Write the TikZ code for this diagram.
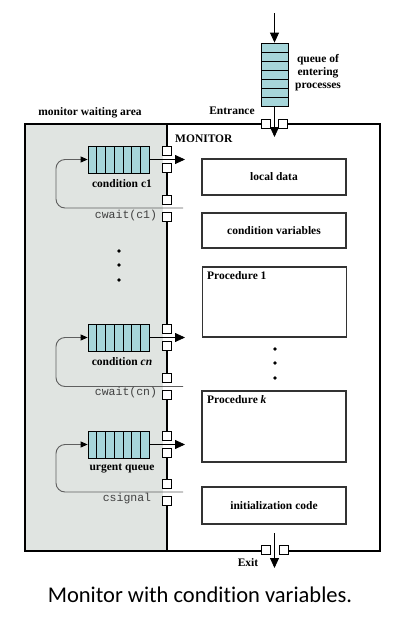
\documentclass[tikz,border=0pt]{standalone}
\usepackage{fontspec}
\setmainfont{Liberation Serif}
\setmonofont{Liberation Mono}
\newfontfamily\capfont[Ligatures=NoCommon]{Carlito}
\usetikzlibrary{arrows.meta}
\definecolor{waitgray}{RGB}{224,228,225}
\definecolor{qfill}{RGB}{166,214,218}
\definecolor{loopgray}{RGB}{95,95,95}
\begin{document}
\begin{tikzpicture}[x=1pt,y=-1pt,
  lbl/.style={font=\fontsize{11.5}{13}\selectfont\bfseries, inner sep=0pt},
  mono/.style={font=\fontsize{11.5}{13}\ttfamily, text=black!75, inner sep=0pt},
  hq/.style={draw=black, fill=qfill, line width=0.8pt, minimum width=61pt, minimum height=27pt, inner sep=0pt},
  vq/.style={draw=black, fill=qfill, line width=0.8pt, minimum width=27pt, minimum height=63pt, inner sep=0pt},
  gate/.style={draw=black, fill=white, line width=0.7pt, minimum size=9pt, inner sep=0pt},
  gapfill/.style={fill=white},
  procbox/.style={draw=black!80, line width=1.4pt, inner sep=0pt, minimum width=144pt, font=\fontsize{11.5}{13}\selectfont\bfseries},
  qarrow/.style={line width=0.8pt, -{Triangle[length=10pt,width=9pt]}},
  looparrow/.style={draw=loopgray, line width=0.9pt, rounded corners=9pt, -{Triangle[length=7pt,width=6pt,color=black]}},
  dot/.style={circle, fill=black, inner sep=0pt, minimum size=3.6pt}
]
\useasboundingbox (0,0) rectangle (405,622);
% waiting area
\fill[waitgray] (25,124) rectangle (167,551);
% outer border
\draw[line width=2.4pt] (25,124) rectangle (380,551);
% divider
\draw[line width=2pt] (167,124) -- (167,551);
% gaps in border and divider
\fill[gapfill] (270,121) rectangle (279,127);
\fill[gapfill] (270.7,547) rectangle (279,553);
\foreach \ya/\yb in {155.5/164, 203.5/212.5, 333/342, 382/391, 440/449, 487.5/496.5}
  \fill[gapfill] (162.5,\ya) rectangle (171.5,\yb);

% monitor boxes
\node[procbox, minimum height=36pt] (ld) at (274,177) {local data};
\node[procbox, minimum height=35pt] (cv) at (274,230.5) {condition variables};
\node[procbox, minimum height=70pt] (p1) at (274.5,302) {};
\node[lbl, anchor=north west] (p1lab) at (207,271) {Procedure 1};
\node[procbox, minimum height=71pt] (pk) at (274,426.5) {};
\node[lbl, anchor=north west] (pklab) at (207,395) {Procedure \textit{k}};
\node[procbox, minimum height=37pt] (ic) at (274,505.5) {initialization code};

% entrance queue
\node[vq] (eq) at (274.5,74.5) {};
\foreach \i in {1,...,6} \draw[line width=0.7pt] (261,{43+\i*9}) -- (288,{43+\i*9});
\coordinate (etop) at (274.5,13);
\coordinate (ein) at (274.5,137);
\draw[qarrow] (etop) -- (eq.north);
\draw[qarrow] (eq.south) -- (ein);
\node[gate] (eg1) at (265.5,124) {};
\node[gate] (eg2) at (283.3,124) {};

% exit
\coordinate (xtop) at (274.5,533);
\coordinate (xout) at (274.5,568);
\draw[qarrow] (xtop) -- (xout);
\node[gate] (xg1) at (266.2,550) {};
\node[gate] (xg2) at (283.5,550) {};

% condition c1
\node[hq] (q1) at (118.5,159.5) {};
\foreach \i in {1,...,6} \draw[line width=0.7pt] ({88+\i*61/7},146) -- ({88+\i*61/7},173);
\coordinate (a1) at (185,159.5);
\coordinate (l1) at (183,208);
\draw[qarrow] (q1.east) -- (a1);
\draw[looparrow] (l1) -- (56,208) -- (56,159.5) -- (q1.west);
\node[gate] (g1a) at (167,151) {};
\node[gate] (g1b) at (167,168) {};
\node[gate] (g1c) at (167,199.5) {};
\node[gate] (g1d) at (167,216.5) {};
\node[lbl] (c1lab) at (122,184) {condition c1};
\node[mono] (w1) at (126,216) {cwait(c1)};

% dots
\node[dot] (d1) at (119,251) {};
\node[dot] (d2) at (119,265) {};
\node[dot] (d3) at (119,280) {};
\node[dot] (d4) at (275,349) {};
\node[dot] (d5) at (275,363) {};
\node[dot] (d6) at (275,378) {};

% condition cn
\node[hq] (qn) at (118.5,337.5) {};
\foreach \i in {1,...,6} \draw[line width=0.7pt] ({88+\i*61/7},324) -- ({88+\i*61/7},351);
\coordinate (an) at (185,337.5);
\coordinate (ln) at (183,386.5);
\draw[qarrow] (qn.east) -- (an);
\draw[looparrow] (ln) -- (56,386.5) -- (56,337.5) -- (qn.west);
\node[gate] (gna) at (167,329) {};
\node[gate] (gnb) at (167,346) {};
\node[gate] (gnc) at (167,378) {};
\node[gate] (gnd) at (167,395) {};
\node[lbl] (cnlab) at (122,362) {condition \textit{cn}};
\node[mono] (wn) at (126,393) {cwait(cn)};

% urgent queue
\node[hq] (qu) at (118.5,444.5) {};
\foreach \i in {1,...,6} \draw[line width=0.7pt] ({88+\i*61/7},431) -- ({88+\i*61/7},458);
\coordinate (au) at (185,444.5);
\coordinate (lu) at (183,492);
\draw[qarrow] (qu.east) -- (au);
\draw[looparrow] (lu) -- (56,492) -- (56,444.5) -- (qu.west);
\node[gate] (gua) at (167,436) {};
\node[gate] (gub) at (167,453) {};
\node[gate] (guc) at (167,483.5) {};
\node[gate] (gud) at (167,500.5) {};
\node[lbl] (uqlab) at (122,469) {urgent queue};
\node[mono] (sg) at (127,499) {csignal};

% labels
\node[lbl, align=center] (qlab) at (318,73) {queue of\\entering\\processes};
\node[lbl] (ent) at (232,111) {Entrance};
\node[lbl] (mwa) at (90,113) {monitor waiting area};
\node[lbl, anchor=west] (mon) at (175,139) {MONITOR};
\node[lbl] (exl) at (248,563) {Exit};
\node[font=\capfont\fontsize{22.5}{27}\selectfont, inner sep=0pt, anchor=base] (cap) at (200,602) {Monitor with condition variables.};
\end{tikzpicture}
\end{document}
